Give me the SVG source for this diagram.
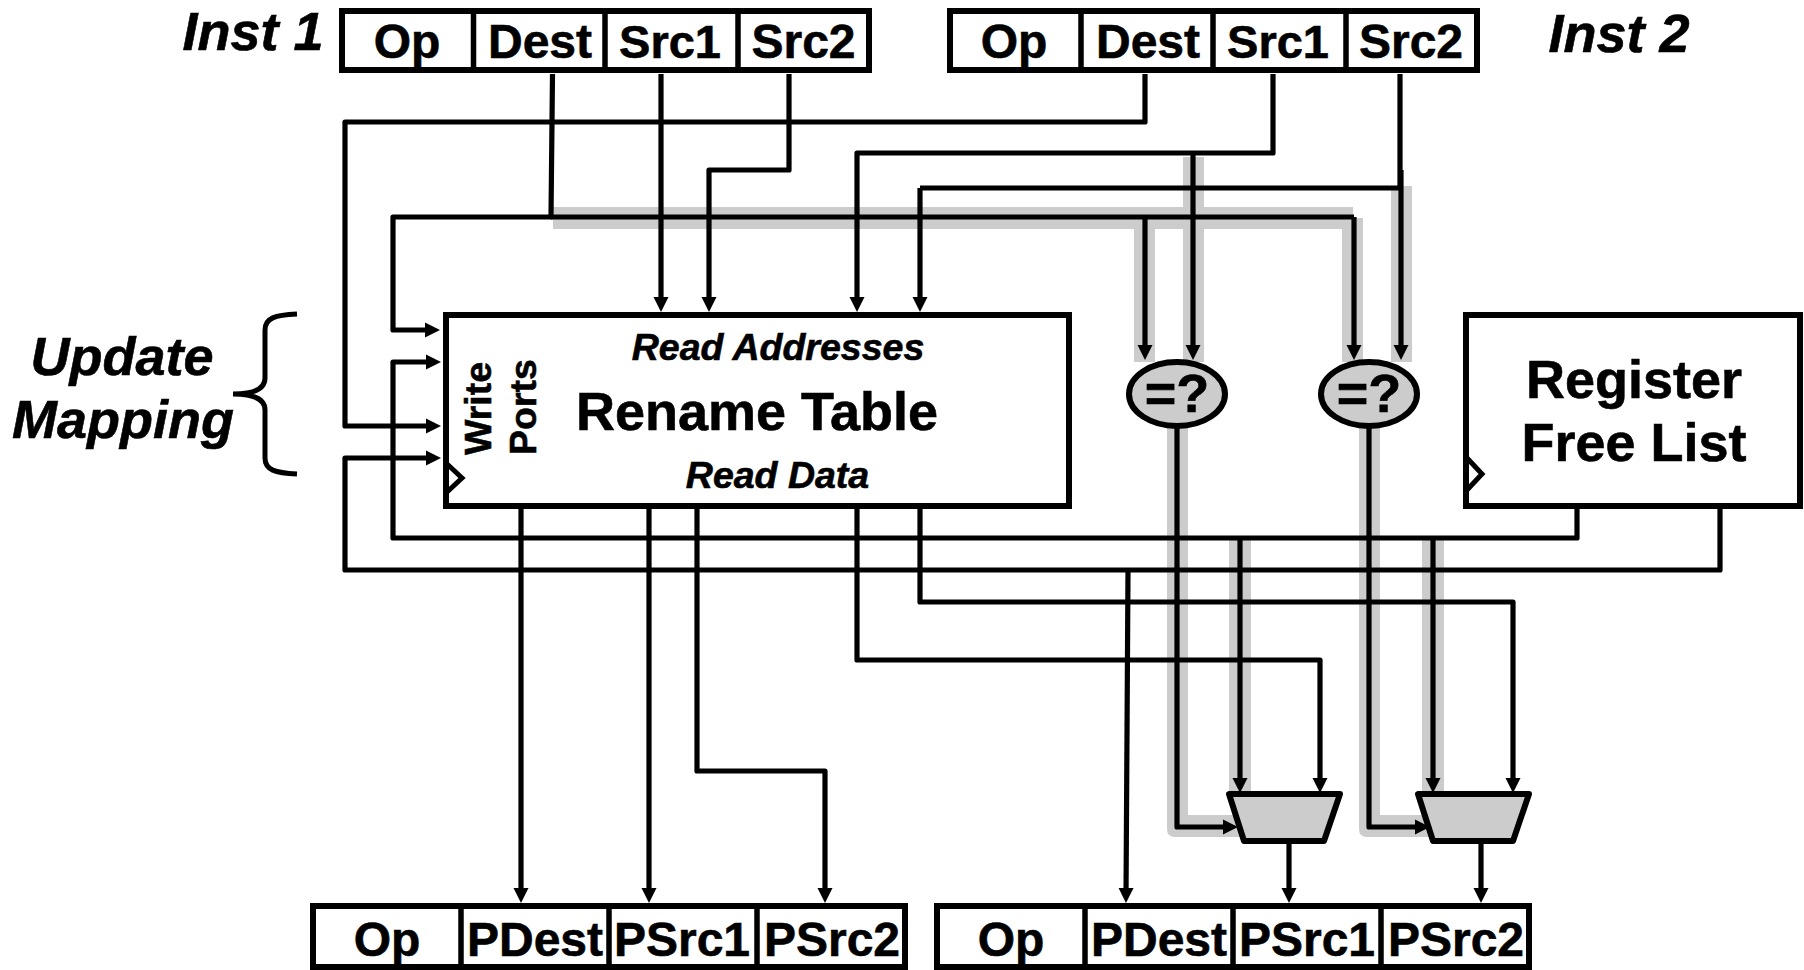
<svg xmlns="http://www.w3.org/2000/svg" width="1804" height="970" viewBox="0 0 1804 970">
<style>
text{font-family:"Liberation Sans",Arial,sans-serif;font-weight:bold;fill:#000;stroke:#000;stroke-width:0.6}
.f{font-size:48px;text-anchor:middle}
.h{font-size:47px;text-anchor:middle}
.p{font-size:48px;text-anchor:middle}
.i{font-style:italic;font-size:54px;text-anchor:middle}
.s{font-style:italic;font-size:37.500px;text-anchor:middle}
.t{font-size:54px;text-anchor:middle}
.w{font-size:37.500px}
.box{fill:#fff;stroke:#000;stroke-width:6}
.div{stroke:#000;stroke-width:5.500;fill:none}
.clk{fill:none;stroke:#000;stroke-width:5}
.g{fill:#ccc}
.gate{fill:#ccc;stroke:#000;stroke-width:6;stroke-linejoin:round}
.c{fill:none;stroke:#000;stroke-width:5.200;stroke-linejoin:round}
.a{marker-end:url(#arr)}
</style>
<defs>
<marker id="arr" markerUnits="userSpaceOnUse" markerWidth="16" markerHeight="16" refX="9" refY="8" orient="auto"><path d="M0,0.500 L15,8 L0,15.500 z" fill="#000"/></marker>
</defs>
<g id="highlights">
<rect class="g" x="553" y="207" width="800" height="22"/>
<rect class="g" x="1342" y="218" width="21" height="144"/>
<rect class="g" x="1134" y="229" width="21" height="133"/>
<rect class="g" x="1183" y="157" width="21" height="205"/>
<rect class="g" x="1391" y="186" width="21" height="176"/>
<path class="g" d="M1167,428H1188V815H1240V837H1175Q1167,837 1167,829Z"/>
<path class="g" d="M1359,428H1380V815H1430V837H1367Q1359,837 1359,829Z"/>
<rect class="g" x="1229" y="540" width="22" height="252"/>
<rect class="g" x="1422" y="540" width="22" height="252"/>
</g>
<g id="connectors">
<path class="c a" d="M552.500,74L551,217H393V330H434"/>
<path class="c" d="M551,217H1354"/>
<path class="c a" d="M1354,217V354"/>
<path class="c a" d="M1145,217V354"/>
<path class="c a" d="M661,74V306"/>
<path class="c a" d="M789,74V170H709V306"/>
<path class="c a" d="M1145,74V122H345V426H435"/>
<path class="c a" d="M1273,74V153H857V306"/>
<path class="c a" d="M1193,153V354"/>
<path class="c" d="M1400,74L1400,188H920"/>
<path class="c a" d="M920,188V306"/>
<path class="c a" d="M1401,170V354"/>
<path class="c a" d="M1577,506V538H393V362H435"/>
<path class="c a" d="M1720,506V570H345V458H435"/>
<path class="c a" d="M521,506V897"/>
<path class="c a" d="M649,506V897"/>
<path class="c a" d="M697,506V771H825V897"/>
<path class="c a" d="M857,506V660H1320V787"/>
<path class="c a" d="M920,506V602H1513V787"/>
<path class="c a" d="M1128,570L1126,897"/>
<path class="c a" d="M1177,428V827H1232"/>
<path class="c a" d="M1369,428V827H1424"/>
<path class="c a" d="M1240,538V787"/>
<path class="c a" d="M1433,538V787"/>
<path class="c a" d="M1289,842V897"/>
<path class="c a" d="M1481,842V897"/>
</g>
<g id="inst1">
<rect class="box" x="342" y="11" width="527" height="59"/>
<path class="div" d="M473.500,9V72M605,9V72M738,9V72"/>
<text class="f" x="407" y="58">Op</text>
<text class="f" x="540" y="58">Dest</text>
<text class="h" x="670" y="58">Src1</text>
<text class="f" x="803.500" y="58">Src2</text>
</g>
<g id="inst2">
<rect class="box" x="950" y="11" width="527" height="59"/>
<path class="div" d="M1081,9V72M1213,9V72M1346,9V72"/>
<text class="f" x="1014" y="58">Op</text>
<text class="f" x="1148" y="58">Dest</text>
<text class="h" x="1278" y="58">Src1</text>
<text class="f" x="1411" y="58">Src2</text>
</g>
<g id="inst1-label"><text class="i" x="253" y="50">Inst 1</text></g>
<g id="inst2-label"><text class="i" x="1619" y="52">Inst 2</text></g>
<g id="update-mapping">
<text class="i" x="122" y="375">Update</text>
<text class="i" x="123" y="438">Mapping</text>
<path d="M297,314C275,315 265,318 265,330V378C265,388 255,394 233,394C255,394 265,400 265,410V458C265,470 275,473 297,474" fill="none" stroke="#000" stroke-width="5" stroke-linecap="butt"/>
</g>
<g id="rename-table">
<rect class="box" x="446" y="315" width="623" height="191"/>
<path class="clk" d="M446,463L462,478L446,493"/>
<text class="w" transform="translate(491 455) rotate(-90)">Write</text>
<text class="w" transform="translate(536 455) rotate(-90)">Ports</text>
<text class="s" x="778" y="360">Read Addresses</text>
<text class="t" x="757" y="430">Rename Table</text>
<text class="s" x="777.500" y="488">Read Data</text>
</g>
<g id="free-list">
<rect class="box" x="1466" y="315" width="334" height="191"/>
<path class="clk" d="M1467,458L1482,474L1467,490"/>
<text class="t" x="1634" y="398">Register</text>
<text class="t" x="1634" y="461">Free List</text>
</g>
<g id="cmp1">
<ellipse class="gate" cx="1177" cy="394" rx="48" ry="32"/>
<text class="t" x="1177" y="412">=?</text>
</g>
<g id="cmp2">
<ellipse class="gate" cx="1369" cy="394" rx="48" ry="32"/>
<text class="t" x="1369" y="412">=?</text>
</g>
<g id="mux1"><path class="gate" d="M1229,794H1340L1324,841H1244Z"/></g>
<g id="mux2"><path class="gate" d="M1418,794H1529L1513,841H1433Z"/></g>
<g id="out1">
<rect class="box" x="313" y="906" width="592" height="61"/>
<path class="div" d="M461,904V969M609,904V969M757,904V969"/>
<text class="f" x="387" y="956">Op</text>
<text class="p" x="535" y="956">PDest</text>
<text class="p" x="682" y="956">PSrc1</text>
<text class="p" x="832" y="956">PSrc2</text>
</g>
<g id="out2">
<rect class="box" x="937" y="906" width="592" height="61"/>
<path class="div" d="M1085,904V969M1233,904V969M1381,904V969"/>
<text class="f" x="1011" y="956">Op</text>
<text class="p" x="1159" y="956">PDest</text>
<text class="p" x="1307" y="956">PSrc1</text>
<text class="p" x="1456" y="956">PSrc2</text>
</g>
</svg>
